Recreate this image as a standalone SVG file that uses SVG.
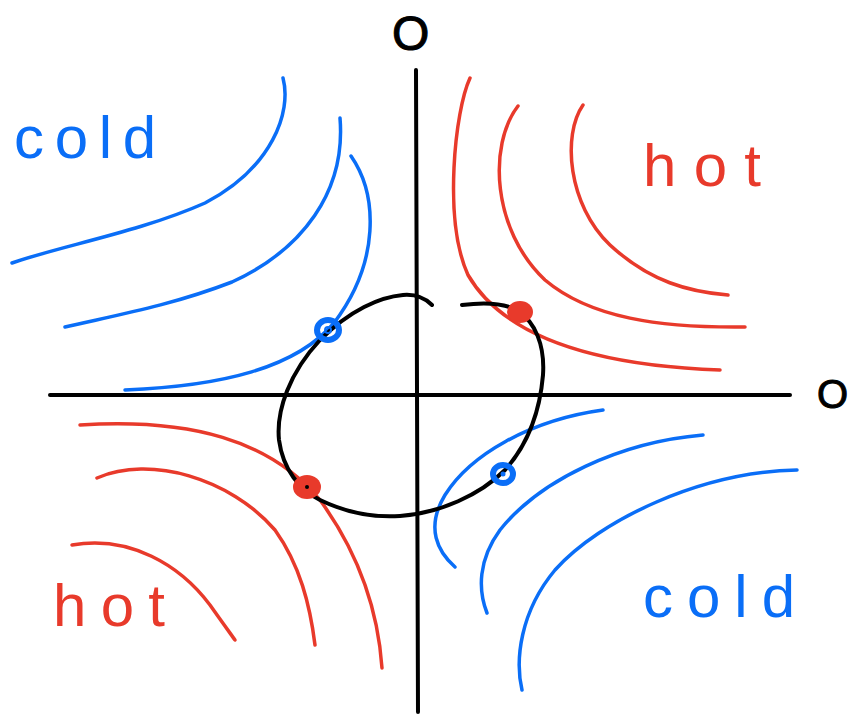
<svg xmlns="http://www.w3.org/2000/svg" width="853" height="714" viewBox="0 0 853 714">
<style>
.b{fill:none;stroke:#0a6ef7;stroke-width:3.5;stroke-linecap:round;stroke-linejoin:round}
.r{fill:none;stroke:#e83a2b;stroke-width:3.5;stroke-linecap:round;stroke-linejoin:round}
.k{fill:none;stroke:#000;stroke-width:4;stroke-linecap:round;stroke-linejoin:round}
.tb{fill:#0a6ef7;font-family:"Liberation Sans",Arial,sans-serif;font-size:60px}
.tr{fill:#e83a2b;font-family:"Liberation Sans",Arial,sans-serif;font-size:60px}
.tk{fill:#000;font-family:"Liberation Sans",Arial,sans-serif;font-size:48px;stroke:#000;stroke-width:1}
</style>
<rect width="853" height="714" fill="#fff"/>
<g id="axes">
<path class="k" d="M416,70 L418,712"/>
<path class="k" d="M50,395 L790,395"/>
<text class="tk" x="392" y="50">O</text>
<text class="tk" x="817" y="408" style="font-size:40px">O</text>
</g>
<g id="cold-top-left">
<path class="b" d="M283,78 C292,112 272,168 205,203 C140,232 60,246 12,263"/>
<path class="b" d="M340,118 C346,192 302,250 232,282 C170,306 112,316 65,327"/>
<path class="b" d="M351,156 C378,195 380,262 334,323 C296,368 222,386 125,390"/>
<text class="tb" x="14" y="158" textLength="142" lengthAdjust="spacing">cold</text>
</g>
<g id="hot-top-right">
<path class="r" d="M470,78 C455,110 443,220 468,275 C500,330 580,365 720,370"/>
<path class="r" d="M518,106 C488,145 492,230 545,280 C590,318 660,328 745,327"/>
<path class="r" d="M583,105 C562,135 568,205 610,245 C650,282 690,292 728,295"/>
<text class="tr" x="643" y="186" textLength="118" lengthAdjust="spacing">hot</text>
</g>
<g id="hot-bottom-left">
<path class="r" d="M80,425 C190,418 270,440 320,500 C360,555 378,610 382,668"/>
<path class="r" d="M97,478 C150,455 230,478 275,530 C300,565 310,605 315,645"/>
<path class="r" d="M72,545 C130,535 180,565 210,605 C222,622 230,633 235,640"/>
<text class="tr" x="53" y="626" textLength="112" lengthAdjust="spacing">hot</text>
</g>
<g id="cold-bottom-right">
<path class="b" d="M603,410 C530,420 470,455 445,495 C425,528 438,552 455,567"/>
<path class="b" d="M703,435 C620,442 540,480 500,530 C478,560 478,590 487,613"/>
<path class="b" d="M797,470 C700,472 600,520 555,570 C520,612 515,660 522,690"/>
<text class="tb" x="643" y="617" textLength="152" lengthAdjust="spacing">cold</text>
</g>
<g id="orbit">
<path class="k" d="M432,305 C425,298 415,294 403,295 C380,297 350,310 320,340 C290,372 276,410 279,440 C283,470 300,490 320,500 C345,512 370,518 400,516 C440,513 480,495 505,470 C530,442 540,410 543,375 C545,345 535,322 518,311 C505,303 485,302 462,305"/>
</g>
<g id="dots">
<ellipse cx="328" cy="330" rx="11" ry="10" fill="none" stroke="#0a6ef7" stroke-width="6"/>
<circle cx="328" cy="330" r="3" fill="none" stroke="#0a6ef7" stroke-width="2"/>
<ellipse cx="520" cy="312" rx="13" ry="11" fill="#e83a2b"/>
<ellipse cx="307" cy="487" rx="14" ry="12" fill="#e83a2b"/>
<circle cx="307" cy="487" r="2" fill="#000"/>
<ellipse cx="503" cy="474" rx="10" ry="9" fill="none" stroke="#0a6ef7" stroke-width="6"/>
<circle cx="503" cy="474" r="2.5" fill="#0a6ef7"/>
</g>
</svg>
